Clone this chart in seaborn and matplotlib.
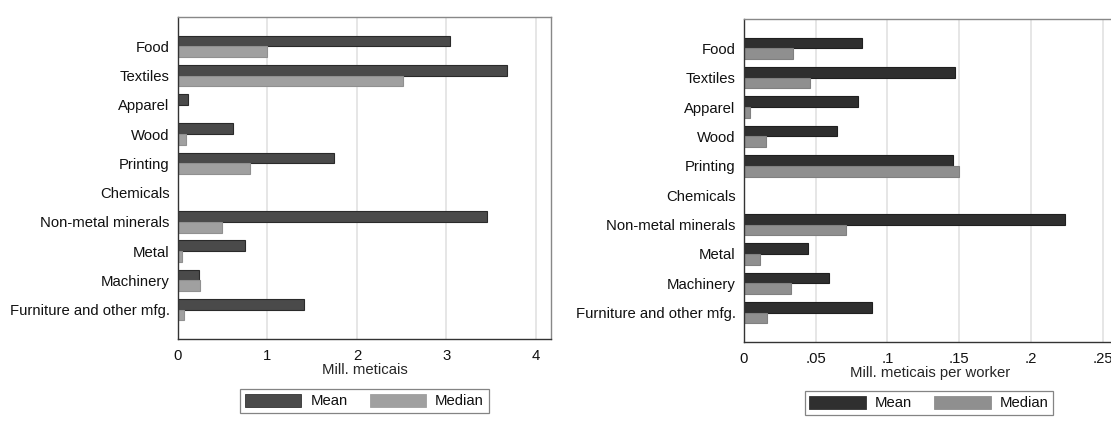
import numpy as np
import pandas as pd
import matplotlib
matplotlib.use('Agg')
import matplotlib.pyplot as plt
import seaborn as sns
from matplotlib.patches import Patch

sectors = ['Food', 'Textiles', 'Apparel', 'Wood', 'Printing', 'Chemicals',
           'Non-metal minerals', 'Metal', 'Machinery', 'Furniture and other mfg.']

# Mill. meticais
level_mean = [3.04, 3.68, 0.11, 0.62, 1.74, np.nan, 3.46, 0.75, 0.23, 1.41]
level_median = [0.99, 2.52, np.nan, 0.09, 0.80, np.nan, 0.49, 0.04, 0.25, 0.07]

# Mill. meticais per worker
worker_mean = [0.0825, 0.1474, 0.0797, 0.0649, 0.1460, np.nan, 0.2238, 0.0446, 0.0593, 0.0893]
worker_median = [0.0342, 0.0463, 0.0042, 0.0153, 0.1500, np.nan, 0.0709, 0.0112, 0.0330, 0.0160]

left_ticks = [0, 1, 2, 3, 4]
left_ticklabels = ['0', '1', '2', '3', '4']
right_ticks = [0, 0.05, 0.10, 0.15, 0.20, 0.25]
right_ticklabels = ['0', '.05', '.1', '.15', '.2', '.25']

FS = 10.7


def long_df(mean, median):
    return pd.DataFrame({
        'sector': sectors * 2,
        'value': list(mean) + list(median),
        'stat': ['Mean'] * len(sectors) + ['Median'] * len(sectors),
    })


def draw_panel(ax, df, colors, edges, xlim, ticks, ticklabels, xlabel):
    sns.barplot(data=df, y='sector', x='value', hue='stat', order=sectors,
                hue_order=['Mean', 'Median'], orient='h', width=0.73,
                palette=colors, ax=ax, legend=False, saturation=1)
    for i, bars in enumerate(ax.containers):
        for b in bars:
            b.set_edgecolor(edges[i])
            b.set_linewidth(0.8)
    ax.set_xlim(*xlim)
    ax.set_ylim(10, -1)
    ax.set_xticks(ticks)
    ax.set_xticklabels(ticklabels)
    ax.set_xlabel(xlabel, fontsize=FS, labelpad=0)
    ax.set_ylabel('')
    ax.grid(axis='x', color='#e2e2e2', linewidth=1.2)
    ax.grid(axis='y', visible=False)
    ax.set_axisbelow(True)
    ax.tick_params(axis='y', length=0, labelsize=FS, pad=6)
    ax.tick_params(axis='x', length=4, width=0.8, color='#333333', labelsize=FS, pad=3)
    for side in ['top', 'right']:
        ax.spines[side].set_color('#888888')
        ax.spines[side].set_linewidth(1.0)
    for side in ['left', 'bottom']:
        ax.spines[side].set_color('#333333')
        ax.spines[side].set_linewidth(1.0)


sns.set_theme(style='white')
plt.rcParams['font.family'] = ['Liberation Sans', 'DejaVu Sans']
plt.rcParams['text.color'] = '#111111'
plt.rcParams['xtick.color'] = '#111111'
plt.rcParams['ytick.color'] = '#111111'

fig = plt.figure(figsize=(11.11, 4.29), dpi=100)

ax1 = fig.add_axes([178 / 1111, 1 - 339 / 429, 373 / 1111, 322 / 429])
draw_panel(ax1, long_df(level_mean, level_median), ['#4a4a4a', '#a0a0a0'],
           ['#2a2a2a', '#909090'], (0, 4.17), left_ticks, left_ticklabels,
           'Mill. meticais')

ax2 = fig.add_axes([744 / 1111, 1 - 342 / 429, 373 / 1111, 323 / 429])
draw_panel(ax2, long_df(worker_mean, worker_median), ['#2f2f2f', '#8f8f8f'],
           ['#1f1f1f', '#808080'], (0, 0.26), right_ticks, right_ticklabels,
           'Mill. meticais per worker')

for ax, colors, anchor in [(ax1, ['#4a4a4a', '#a0a0a0'], (364.5 / 1111, 1 - 401 / 429)),
                           (ax2, ['#2f2f2f', '#8f8f8f'], (929 / 1111, 1 - 403 / 429))]:
    handles = [Patch(facecolor=colors[0], edgecolor='#333333', linewidth=0.6, label='Mean'),
               Patch(facecolor=colors[1], edgecolor=colors[1], linewidth=0.6, label='Median')]
    leg = fig.legend(handles=handles, loc='center', bbox_to_anchor=anchor, ncol=2,
                     frameon=True, fancybox=False, edgecolor='#666666', fontsize=FS,
                     handlelength=3.8, handleheight=1.05, handletextpad=0.6,
                     columnspacing=1.5, borderpad=0.3, borderaxespad=0)
    leg.get_frame().set_linewidth(0.9)

fig.savefig('out.png', dpi=100)
plt.close()
